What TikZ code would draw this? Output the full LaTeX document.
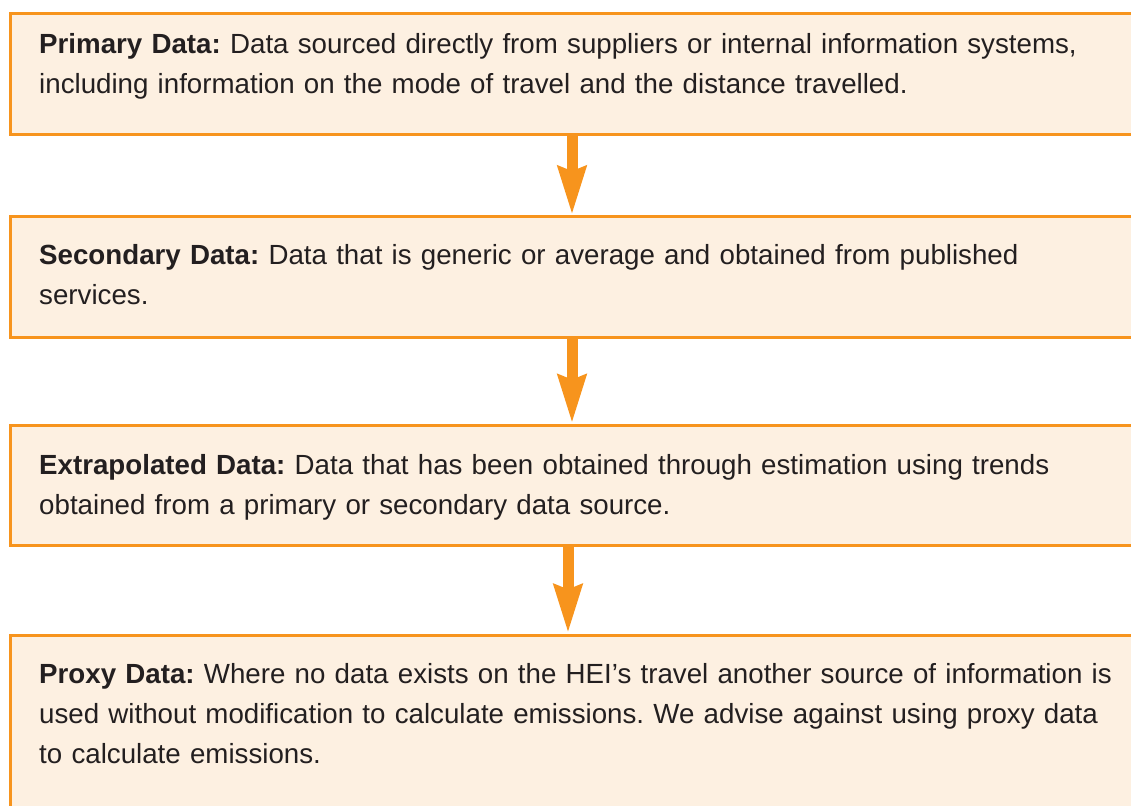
\documentclass[tikz,border=0pt]{standalone}
\usepackage{fontspec}
\setmainfont{Liberation Sans}
\usepackage{tikz}
\usetikzlibrary{arrows.meta}

\definecolor{dataorange}{HTML}{F7941D}
\definecolor{datafill}{HTML}{FDF0E1}
\definecolor{datatext}{HTML}{231F20}

\frenchspacing

\tikzset{
	databox/.style={rectangle, draw=dataorange, fill=datafill, line width=3pt, minimum width=1123pt, minimum height=120.5pt},
	datalabel/.style={anchor=base west, inner sep=0pt, text=datatext, text width=1090pt, align=left, font=\fontsize{27.7}{40}\selectfont},
	flow/.style={draw=dataorange, line width=11pt, -{Stealth[length=48pt, width=27pt, inset=4pt]}}
}

\begin{document}
\begin{tikzpicture}[x=1pt, y=-1pt]
\path[use as bounding box, clip] (0,0) rectangle (1131,805);

\node (primary) at (572,74) [databox] {};
	\node (primarytext) at (39,54) [datalabel] {\textbf{Primary Data:} Data sourced directly from suppliers or internal information systems,\\including information on the mode of travel and the distance travelled.};

\node (secondary) at (572,277) [databox] {};
	\node (secondarytext) at (39,264) [datalabel] {\textbf{Secondary Data:} Data that is generic or average and obtained from published\\services.};

\node (extrapolated) at (572,485.5) [databox] {};
	\node (extrapolatedtext) at (39,474) [datalabel] {\textbf{Extrapolated Data:} Data that has been obtained through estimation using trends\\obtained from a primary or secondary data source.};

\node (proxy) at (572,735) [databox, minimum height=200pt] {};
	\node (proxytext) at (39,683) [datalabel] {\textbf{Proxy Data:} Where no data exists on the HEI’s travel another source of information is\\used without modification to calculate emissions. We advise against using proxy data\\to calculate emissions.};

\draw[flow] (primary) -- (secondary);
\draw[flow] (secondary) -- (extrapolated);
\draw[flow] ([xshift=-4pt]extrapolated.south) -- ([xshift=-4pt]proxy.north);

\end{tikzpicture}
\end{document}
